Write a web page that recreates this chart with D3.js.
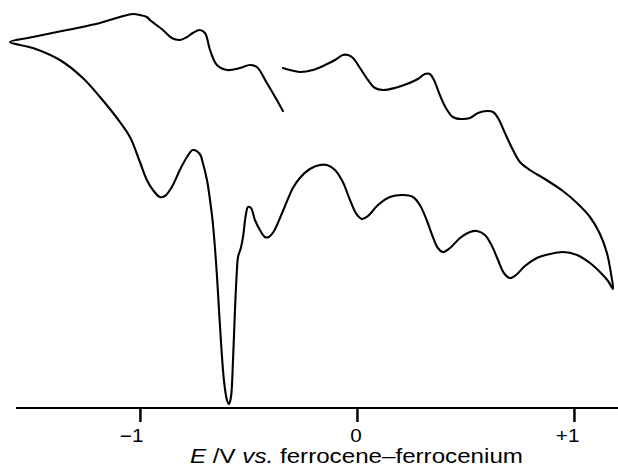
<!DOCTYPE html>
<html>
<head>
<meta charset="utf-8">
<script src="https://cdn.jsdelivr.net/npm/d3@7"></script>
<style>
  html, body { margin: 0; padding: 0; background: #fff; }
  svg { display: block; }
</style>
</head>
<body>
<svg id="chart" width="618" height="471"></svg>
<script>
// Potential (V vs. Fc/Fc+) and current (arbitrary units).
// Segment 1: upper (forward) branch, from its break back to the left vertex
const upperLeftE = [-0.341,-0.369,-0.415,-0.461,-0.493,-0.539,-0.599,-0.645,-0.677,-0.700,-0.724,-0.756,-0.783,-0.816,-0.853,-0.894,-0.954,-0.968,-1.000,-1.032,-1.092,-1.184,-1.336,-1.493,-1.599];
const upperLeftI = [74.25,77.0,81.25,85.25,85.75,85.0,84.5,85.75,89.5,93.75,94.5,93.75,92.75,92.0,92.5,94.5,97.0,97.75,98.25,98.5,97.75,96.25,94.5,92.75,91.5];
// Segment 2: lower branch, from the left vertex to the right vertex
const lowerE = [-1.493,-1.369,-1.263,-1.184,-1.106,-1.046,-1.000,-0.968,-0.940,-0.908,-0.885,-0.853,-0.816,-0.783,-0.756,-0.724,-0.710,-0.691,-0.677,-0.664,-0.650,-0.641,-0.627,-0.613,-0.599,-0.590,-0.581,-0.571,-0.562,-0.553,-0.548,-0.535,-0.525,-0.512,-0.502,-0.488,-0.470,-0.447,-0.424,-0.406,-0.382,-0.341,-0.295,-0.263,-0.217,-0.171,-0.138,-0.101,-0.065,-0.032,-0.005,0.023,0.051,0.097,0.152,0.212,0.258,0.290,0.323,0.350,0.373,0.396,0.429,0.475,0.521,0.553,0.590,0.622,0.650,0.677,0.705,0.733,0.774,0.829,0.889,0.949,1.014,1.074,1.120,1.157,1.180];
const lowerI = [90.0,87.0,82.5,77.75,72.5,67.75,61.5,57.0,54.5,52.75,53.0,55.25,59.5,62.75,64.5,63.5,61.25,57.0,52.0,46.25,37.0,29.5,17.0,7.0,2.0,1.0,2.5,12.0,24.5,34.5,37.75,40.0,42.75,48.25,50.25,50.0,47.0,44.5,42.75,42.75,44.25,49.25,55.0,57.5,59.75,60.75,60.75,59.5,56.5,52.0,48.75,47.25,48.0,50.75,52.75,53.25,52.75,50.75,46.75,42.75,40.0,39.0,40.0,42.5,44.0,44.25,43.25,40.5,37.0,33.75,32.5,33.25,35.5,37.5,38.5,39.0,38.25,36.25,34.0,31.75,29.75];
// Segment 3: upper branch, from the right vertex back to its break
const upperRightE = [1.171,1.152,1.120,1.074,1.014,0.949,0.866,0.797,0.751,0.719,0.682,0.650,0.627,0.599,0.558,0.521,0.479,0.442,0.410,0.382,0.355,0.336,0.313,0.281,0.230,0.175,0.120,0.083,0.051,0.014,-0.018,-0.041,-0.065,-0.101,-0.147,-0.203,-0.263,-0.309,-0.341];
const upperRightI = [33.5,38.75,43.5,47.75,51.25,54.25,57.25,59.5,61.5,64.5,68.75,72.5,74.0,74.25,73.75,72.5,72.25,72.75,75.0,78.25,82.0,83.5,83.5,82.25,81.0,80.0,79.5,80.0,82.0,85.0,87.5,88.25,88.25,87.0,85.75,84.5,84.0,84.5,85.0];

const tickValues = [-1, 0, 1];
const tickLabels = ["\u22121", "0", "+1"];

const svg = d3.select("#chart");
const x = d3.scaleLinear().domain([-1.571, 1.203]).range([16, 618]);
const y = d3.scaleLinear().domain([0, 100]).range([408, 8]);

const pts = [];
[[upperLeftE, upperLeftI], [lowerE, lowerI], [upperRightE, upperRightI]].forEach(([es, is]) => {
  es.forEach((e, k) => pts.push([e, is[k]]));
});

const line = d3.line()
  .x(d => x(d[0]))
  .y(d => y(d[1]))
  .curve(d3.curveCatmullRom.alpha(0.5));

svg.append("path")
  .datum(pts)
  .attr("d", line)
  .attr("fill", "none")
  .attr("stroke", "#000")
  .attr("stroke-width", 2.1)
  .attr("stroke-linejoin", "round")
  .attr("stroke-linecap", "round");

// Axis
const axis = d3.axisBottom(x)
  .tickValues(tickValues)
  .tickFormat((d, i) => tickLabels[i])
  .tickSize(14)
  .tickSizeOuter(0);

const g = svg.append("g").attr("transform", "translate(0,408)").call(axis);
g.select(".domain").attr("stroke", "#000").attr("stroke-width", 2).attr("d", "M16,0H618");
g.selectAll(".tick line").attr("stroke", "#000").attr("stroke-width", 2.5);
g.selectAll(".tick text")
  .attr("fill", "#000")
  .attr("y", 34)
  .attr("dy", null)
  .attr("text-anchor", d => d === 0 ? "middle" : "end")
  .attr("x", d => d === 0 ? -1.3 : (d < 0 ? 2.6 : 4.3))
  .attr("transform", "scale(1.15,1)")
  .style("font-family", "'Liberation Sans', Arial, sans-serif")
  .style("font-size", "18px");

const title = svg.append("text")
  .attr("x", 190)
  .attr("y", 463)
  .attr("textLength", 333)
  .attr("lengthAdjust", "spacingAndGlyphs")
  .style("font-family", "'Liberation Sans', Arial, sans-serif")
  .style("font-size", "20px")
  .attr("fill", "#000");
title.append("tspan").style("font-style", "italic").text("E");
title.append("tspan").text(" /V ");
title.append("tspan").style("font-style", "italic").text("vs.");
title.append("tspan").text("  ferrocene\u2013ferrocenium");
</script>
</body>
</html>
